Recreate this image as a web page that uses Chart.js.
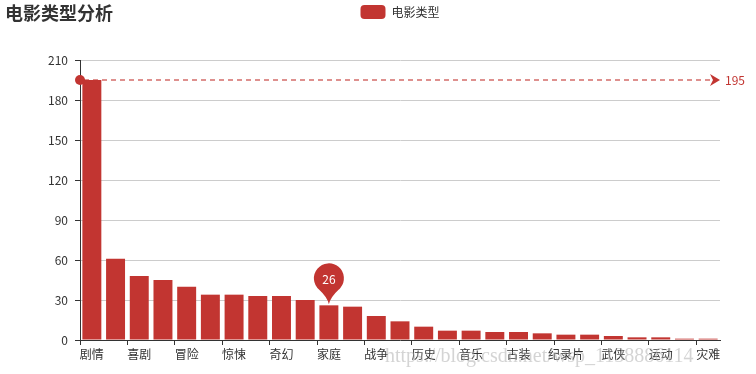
<!DOCTYPE html>
<html>
<head>
<meta charset="utf-8">
<script src="https://cdn.jsdelivr.net/npm/chart.js@4/dist/chart.umd.min.js"></script>
<style>
html,body{margin:0;padding:0;background:#fff;}
#wrap{width:756px;height:374px;position:relative;}
</style>
</head>
<body>
<div id="wrap"><canvas id="c" width="756" height="374"></canvas></div>
<script>
// ---- data ----
const chartTitle = '电影类型分析';
const seriesName = '电影类型';
const categories = ['剧情','爱情','喜剧','动作','冒险','犯罪','惊悚','悬疑','奇幻','科幻','家庭','动画','战争','传记','历史','恐怖','音乐','同性','古装','歌舞','纪录片','西部','武侠','儿童','运动','情色','灾难'];
const values = [195,61,48,45,40,34,34,33,33,30,26,25,18,14,10,7,7,6,6,5,4,4,3,2,2,1,1];
const yTickValues = [0,30,60,90,120,150,180,210];
const markLineValues = [195];
const markPointCategories = ['家庭'];
const watermarkText = 'https://blog.csdn.net/wsp_1138886114';

const RED = '#c23531';
const FONT = "'Noto Sans CJK SC', 'Noto Sans', sans-serif";

Chart.defaults.font.family = FONT;
Chart.defaults.font.size = 12;
Chart.defaults.color = '#333';

// empty layout box between legend and plot area
const spacer = {
  id: 'spacer',
  beforeInit(chart) {
    const box = {
      position: 'top',
      weight: -10,
      fullSize: true,
      options: {},
      width: 0, height: 0, top: 0, left: 0, right: 0, bottom: 0,
      isHorizontal() { return true; },
      update(maxWidth) { this.width = maxWidth; this.height = 31; return {}; },
      draw() {}
    };
    Chart.layouts.addBox(chart, box);
  }
};

const overlay = {
  id: 'overlay',
  afterDatasetsDraw(chart) {
    const {ctx, chartArea, scales: {x, y}} = chart;
    ctx.save();
    markLineValues.forEach(v => {
      const py = Math.round(y.getPixelForValue(v));
      const x0 = chartArea.left, x1 = chartArea.right;
      ctx.strokeStyle = 'rgba(194,53,49,0.55)';
      ctx.lineWidth = 2;
      ctx.setLineDash([5, 4]);
      ctx.beginPath();
      ctx.moveTo(x0 + 4, py);
      ctx.lineTo(x1 - 8, py);
      ctx.stroke();
      ctx.setLineDash([]);
      ctx.fillStyle = RED;
      ctx.beginPath();
      ctx.arc(x0, py, 5, 0, Math.PI * 2);
      ctx.fill();
      ctx.beginPath();
      ctx.moveTo(x1, py);
      ctx.lineTo(x1 - 10, py - 6);
      ctx.lineTo(x1 - 7, py);
      ctx.lineTo(x1 - 10, py + 6);
      ctx.closePath();
      ctx.fill();
      ctx.font = '12px ' + FONT;
      ctx.textAlign = 'left';
      ctx.textBaseline = 'middle';
      ctx.fillText(String(v), x1 + 5, py);
    });
    markPointCategories.forEach(cat => {
      const idx = categories.indexOf(cat);
      const v = values[idx];
      const cx = x.getPixelForValue(idx);
      const tipY = y.getPixelForValue(v) - 1;
      const r = 15;
      const cy = tipY - 26;
      const a = 0.7;
      const lx = cx - r * Math.sin(a), ly = cy + r * Math.cos(a);
      ctx.fillStyle = RED;
      ctx.beginPath();
      ctx.moveTo(cx, tipY);
      ctx.quadraticCurveTo(cx - 1.5, tipY - 7, lx, ly);
      ctx.arc(cx, cy, r, Math.PI / 2 + a, Math.PI / 2 - a);
      ctx.quadraticCurveTo(cx + 1.5, tipY - 7, cx, tipY);
      ctx.closePath();
      ctx.fill();
      ctx.fillStyle = '#fff';
      ctx.font = '12px ' + FONT;
      ctx.textAlign = 'center';
      ctx.textBaseline = 'middle';
      ctx.fillText(String(v), cx, cy + 1);
    });
    ctx.restore();
  },
  afterDraw(chart) {
    const {ctx} = chart;
    ctx.save();
    ctx.fillStyle = '#333';
    ctx.font = 'bold 18px ' + FONT;
    ctx.textAlign = 'left';
    ctx.textBaseline = 'middle';
    ctx.fillText(chartTitle, 5, 13);
    ctx.fillStyle = 'rgba(170,170,170,0.5)';
    ctx.font = '20px "Liberation Serif", serif';
    ctx.textBaseline = 'alphabetic';
    ctx.fillText(watermarkText, 385, 362);
    ctx.restore();
  }
};

new Chart(document.getElementById('c'), {
  type: 'bar',
  data: {
    labels: categories,
    datasets: [{
      label: seriesName,
      data: values,
      backgroundColor: RED,
      borderWidth: 0,
      barPercentage: 0.8,
      categoryPercentage: 1.0
    }]
  },
  options: {
    responsive: false,
    animation: false,
    devicePixelRatio: 1,
    layout: {padding: {top: 0, left: 44, right: 0, bottom: 0}},
    plugins: {
      legend: {
        position: 'top',
        fullSize: true,
        labels: {
          boxWidth: 25,
          boxHeight: 14,
          useBorderRadius: true,
          borderRadius: 4,
          padding: 5,
          color: '#333',
          font: {size: 12, family: FONT}
        }
      },
      tooltip: {enabled: false},
      title: {display: false}
    },
    scales: {
      x: {
        type: 'category',
        offset: true,
        border: {color: '#333', width: 1},
        grid: {
          offset: true,
          drawOnChartArea: false,
          drawTicks: true,
          tickLength: 5,
          tickColor: (c) => (c.index % 2 === 0 ? '#333' : 'rgba(0,0,0,0)')
        },
        ticks: {
          autoSkip: false,
          maxRotation: 0,
          minRotation: 0,
          padding: 2,
          color: '#333',
          callback: function (val, i) { return i % 2 === 0 ? categories[i] : ''; }
        },
        afterFit: (s) => { s.height = 34; s.paddingRight = 36; s.paddingLeft = 0; }
      },
      y: {
        min: yTickValues[0],
        max: yTickValues[yTickValues.length - 1],
        border: {color: '#333', width: 1},
        grid: {
          color: (c) => (c.tick && c.tick.value === 0 ? 'rgba(0,0,0,0)' : '#ccc'),
          tickColor: '#333',
          drawTicks: true,
          tickLength: 5
        },
        afterBuildTicks: (s) => { s.ticks = yTickValues.map(v => ({value: v})); },
        ticks: {padding: 7, color: '#333'},
        afterFit: (s) => { s.width = 36; }
      }
    }
  },
  plugins: [spacer, overlay]
});
</script>
</body>
</html>
